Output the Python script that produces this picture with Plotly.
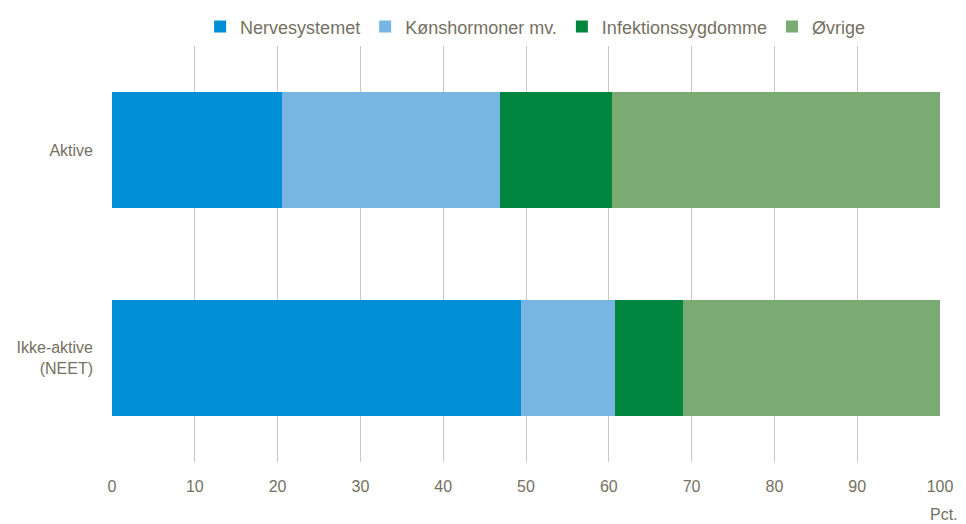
import plotly.graph_objects as go

categories = ["Aktive", "Ikke-aktive<br>(NEET)"]
series_names = ["Nervesystemet", "Kønshormoner mv.", "Infektionssygdomme", "Øvrige"]
nervesystemet = [20.5, 49.4]
koenshormoner = [26.4, 11.3]
infektion = [13.5, 8.3]
oevrige = [39.6, 31.0]
x_ticks = [0, 10, 20, 30, 40, 50, 60, 70, 80, 90, 100]

colors = ["#008fd5", "#77b5e3", "#00853e", "#79ab72"]
values = [nervesystemet, koenshormoner, infektion, oevrige]

FONT = "Liberation Sans, Arial, sans-serif"
TXT = "#75705f"

fig = go.Figure()
for name, vals, col in zip(series_names, values, colors):
    fig.add_trace(go.Bar(y=categories, x=vals, name=name, orientation="h",
                         marker=dict(color=col, line=dict(width=0))))

# page body adds an 8px offset; margins compensate so the plot sits where the reference has it
fig.update_layout(
    barmode="stack",
    bargap=0.44,
    width=958, height=516,
    margin=dict(l=104, r=26, t=38, b=62, autoexpand=False),
    paper_bgcolor="white", plot_bgcolor="white",
    font=dict(family=FONT, size=16, color=TXT),
    legend=dict(orientation="h", x=0.511, xanchor="center", y=1.046, yanchor="middle",
                font=dict(family=FONT, size=18, color=TXT), traceorder="normal"),
    xaxis=dict(range=[0, 100], tickvals=x_ticks, showgrid=True, gridcolor="#c9c9bd",
               gridwidth=1, zeroline=False, showline=False, ticks="",
               ticklabelstandoff=13, tickfont=dict(size=16)),
    yaxis=dict(autorange="reversed", showgrid=False, zeroline=False, showline=False,
               ticks="", ticklabelstandoff=18, tickfont=dict(size=16)),
    annotations=[dict(text="Pct.", xref="paper", yref="paper", x=1.024, y=-0.127,
                      xanchor="right", yanchor="middle", showarrow=False,
                      font=dict(family=FONT, size=16, color=TXT))],
)

fig.write_html("out.html")
